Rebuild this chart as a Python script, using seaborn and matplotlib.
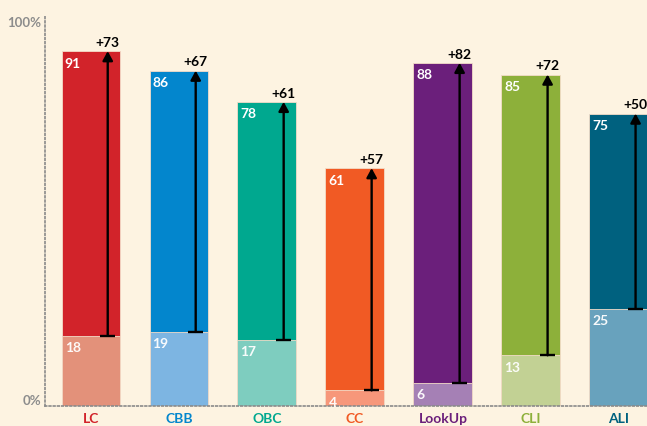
import matplotlib
matplotlib.use("Agg")
import matplotlib.pyplot as plt
import numpy as np
import pandas as pd
import seaborn as sns

# data
categories = ["LC", "CBB", "OBC", "CC", "LookUp", "CLI", "ALI"]
before = [18, 19, 17, 4, 6, 13, 25]
after = [91, 86, 78, 61, 88, 85, 75]
gain = [73, 67, 61, 57, 82, 72, 50]

dark_colors = ["#D2232A", "#0386CD", "#00A88F", "#F15A24", "#6B1F7B", "#8DB03A", "#00617F"]
light_colors = ["#E3917A", "#7DB5E2", "#7ECDBF", "#F7977A", "#A580B5", "#C2D194", "#68A2BD"]

bg = "#FDF3E1"

sns.set_style("white")
plt.rcParams["font.family"] = ["Lato", "DejaVu Sans"]

df = pd.DataFrame({"cat": categories, "before": before, "after": after, "gain": gain})

fig = plt.figure(figsize=(6.47, 4.27), dpi=100, facecolor=bg)
ax = fig.add_axes([45 / 647, 20 / 427, 1 - 45 / 647, 390 / 427])
ax.set_facecolor(bg)

sns.barplot(data=df, x="cat", y="after", hue="cat", palette=dark_colors, legend=False,
            width=0.67, saturation=1, edgecolor="#f3dcc8", linewidth=0.6, ax=ax)
sns.barplot(data=df, x="cat", y="before", hue="cat", palette=light_colors, legend=False,
            width=0.67, saturation=1, edgecolor="#f3dcc8", linewidth=0.6, ax=ax)

ax.set_xlim(-0.523, 6.32)
ax.set_ylim(0, 100)

off = 0.19
for i, row in df.iterrows():
    xa = i + off
    ax.annotate("", xy=(xa, row["after"]), xytext=(xa, row["before"]),
                arrowprops=dict(arrowstyle="-|>,head_length=0.55,head_width=0.3",
                                color="black", lw=1.7, shrinkA=0, shrinkB=0))
    ax.plot([xa - 0.085, xa + 0.085], [row["before"], row["before"]], color="black", lw=1.7,
            solid_capstyle="butt")
    ax.text(xa, row["after"] + 0.8, f"+{row['gain']}", ha="center", va="bottom",
            fontsize=10, fontweight="bold", color="black")
    ax.text(i - 0.3, row["after"] - 1.4, str(row["after"]), ha="left", va="top",
            fontsize=10, fontweight="bold", color="white")
    ax.text(i - 0.3, row["before"] - 1.4, str(row["before"]), ha="left", va="top",
            fontsize=10, fontweight="bold", color="white", alpha=0.95)

for s in ["top", "right"]:
    ax.spines[s].set_visible(False)
for s in ["left", "bottom"]:
    ax.spines[s].set_visible(True)
    ax.spines[s].set_color("#8a8a8a")
    ax.spines[s].set_linestyle((0, (1, 1.5)))
    ax.spines[s].set_linewidth(1.2)

ax.set_yticks([0, 100])
ax.set_yticklabels(["0%", "100%"], fontsize=9.5, fontweight="bold", color="#8c8c8c")
ax.get_yticklabels()[0].set_va("bottom")
ax.get_yticklabels()[1].set_va("top")
ax.tick_params(axis="y", length=0, pad=3)
ax.tick_params(axis="x", length=0, pad=4)
ax.set_xticks(range(len(categories)))
ax.set_xticklabels(categories, fontsize=10, fontweight="bold")
for lbl, c in zip(ax.get_xticklabels(), dark_colors):
    lbl.set_color(c)
ax.set_xlabel("")
ax.set_ylabel("")

fig.savefig("out.png", dpi=100, facecolor=bg)
